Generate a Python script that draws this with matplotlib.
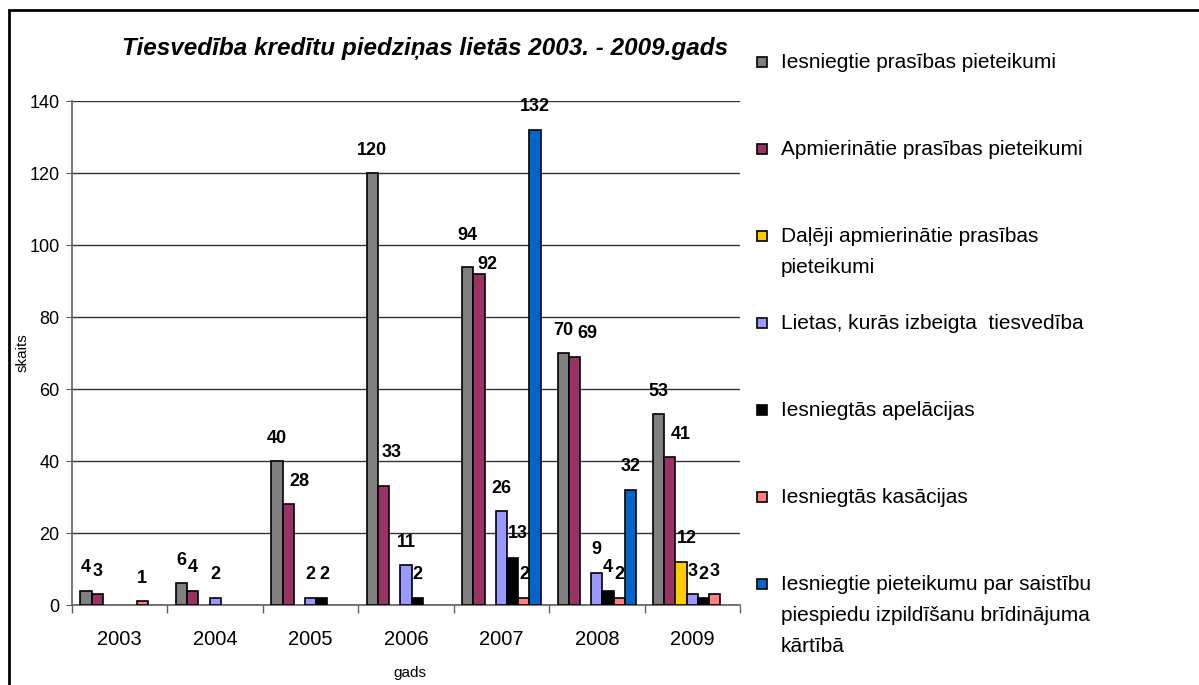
import matplotlib
matplotlib.use("Agg")
import matplotlib.pyplot as plt
from matplotlib.patches import Rectangle
import numpy as np

plt.rcParams['font.family'] = ['Liberation Sans', 'DejaVu Sans']

years = ["2003", "2004", "2005", "2006", "2007", "2008", "2009"]
series_labels = [
    "Iesniegtie prasības pieteikumi",
    "Apmierinātie prasības pieteikumi",
    "Daļēji apmierinātie prasības\npieteikumi",
    "Lietas, kurās izbeigta  tiesvedība",
    "Iesniegtās apelācijas",
    "Iesniegtās kasācijas",
    "Iesniegtie pieteikumu par saistību\npiespiedu izpildīšanu brīdinājuma\nkārtībā",
]
iesniegtie = [4, 6, 40, 120, 94, 70, 53]
apmierinatie = [3, 4, 28, 33, 92, 69, 41]
daleji = [0, 0, 0, 0, 0, 0, 12]
izbeigta = [0, 2, 2, 11, 26, 9, 3]
apelacijas = [0, 0, 2, 2, 13, 4, 2]
kasacijas = [1, 0, 0, 0, 2, 2, 3]
bridinajuma = [0, 0, 0, 0, 132, 32, 0]
series = [iesniegtie, apmierinatie, daleji, izbeigta, apelacijas, kasacijas, bridinajuma]
colors = ["#808080", "#993366", "#FFCC00", "#9999FF", "#000000", "#FF8080", "#0066CC"]

# label nudges (series index, year index) -> (dx, dy) in points, as placed in the reference
label_nudge = {
    (1, 2): (8, 0), (4, 2): (2, 0),
    (1, 3): (6, 8),
    (0, 4): (0, 6), (1, 4): (6, -10), (4, 4): (4, 1),
    (1, 5): (9, 0),
    (1, 6): (8, 0), (2, 6): (4, 0),
}

W, H = 1199, 685
fig = plt.figure(figsize=(W / 100, H / 100), dpi=100)
ax = fig.add_axes([72 / W, 1 - 605 / H, (740 - 72) / W, (605 - 101) / H])

n = len(series)
width = 1 / (n + 1.5)
x = np.arange(len(years))
for j, (vals, col) in enumerate(zip(series, colors)):
    xs = x + (j - (n - 1) / 2) * width
    edges = ["black" if v else "none" for v in vals]
    ax.bar(xs, vals, width=width, color=col, edgecolor=edges, linewidth=1.2, zorder=3)
    for i, (xi, v) in enumerate(zip(xs, vals)):
        if v:
            dx, dy = label_nudge.get((j, i), (0, 0))
            ax.annotate(str(v), (xi, v), xytext=(dx, 16.5 + dy), textcoords="offset points",
                        ha="center", va="center", fontsize=13, fontweight="bold", zorder=4)

ax.set_xlim(-0.5, len(years) - 0.5)
ax.set_ylim(0, 140)
ax.set_yticks(np.arange(0, 141, 20))
ax.yaxis.grid(True, color="#333333", linewidth=1.0, zorder=0)
ax.set_axisbelow(True)
ax.set_xticks(x)
ax.set_xticklabels(years)
ax.set_xticks(np.arange(-0.5, len(years), 1), minor=True)
ax.tick_params(axis="x", which="major", length=0, labelsize=14.5, pad=18)
ax.tick_params(axis="x", which="minor", length=6, color="#606060", width=1)
ax.tick_params(axis="y", length=4, color="#606060", labelsize=13, pad=5)
for s in ["top", "right"]:
    ax.spines[s].set_visible(False)
for s in ["left", "bottom"]:
    ax.spines[s].set_color("#606060")
    ax.spines[s].set_linewidth(1.2)

ax.set_ylabel("skaits", fontsize=11)
ax.yaxis.set_label_coords(-0.063, 0.5)
fig.text(410 / W, 1 - 673 / H, "gads", ha="center", va="center", fontsize=11)

fig.text(425 / W, 1 - 48 / H, "Tiesvedība kredītu piedziņas lietās 2003. - 2009.gads",
         ha="center", va="center", fontsize=17.5, fontweight="bold", fontstyle="italic")

# legend
for i, (lab, col) in enumerate(zip(series_labels, colors)):
    ypix = 62 + i * 87
    fig.patches.append(Rectangle((757 / W, 1 - (ypix + 5) / H), 10 / W, 10 / H,
                                 transform=fig.transFigure, facecolor=col,
                                 edgecolor="black", linewidth=1.2))
    fig.text(781 / W, 1 - (ypix - 9) / H, lab, ha="left", va="top", fontsize=15,
             linespacing=1.8)

# outer frame
fig.patches.append(Rectangle((9 / W, -0.1), 1.2, 1 - 10 / H + 0.1, transform=fig.transFigure,
                             fill=False, edgecolor="black", linewidth=2))

fig.savefig("out.png", dpi=100)
